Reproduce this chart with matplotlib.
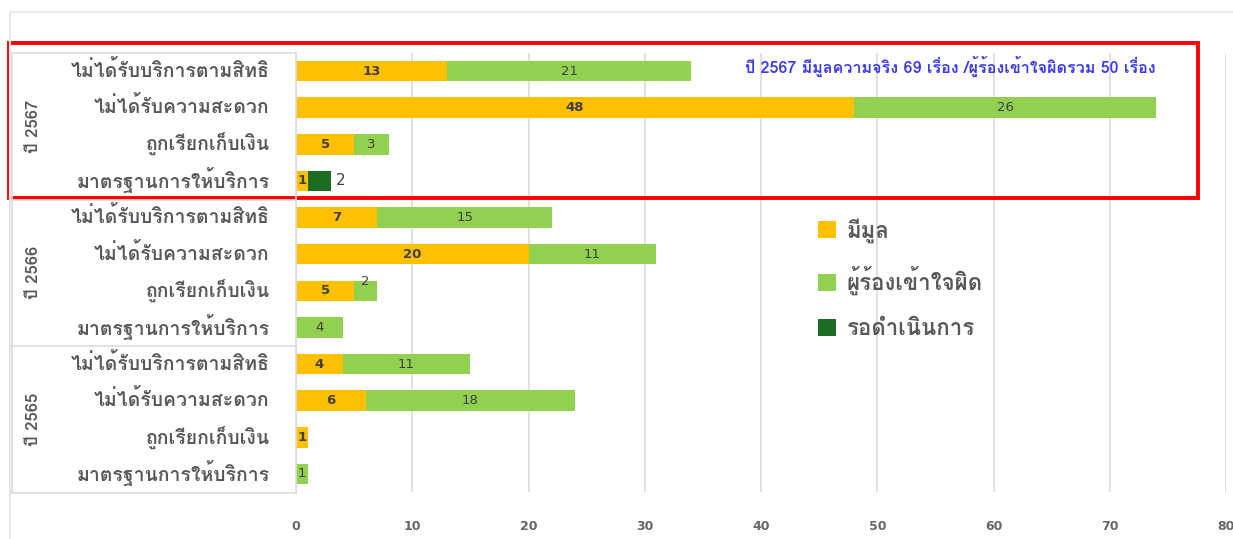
import numpy as np
import matplotlib
matplotlib.use('Agg')
import matplotlib.pyplot as plt
import matplotlib.transforms as mtransforms
from matplotlib.patches import Patch, Rectangle
from matplotlib.lines import Line2D

plt.rcParams['font.family'] = ['Loma', 'Noto Sans Thai Looped', 'DejaVu Sans']

# data (top to bottom)
years = ['ปี 2567', 'ปี 2566', 'ปี 2565']
topics = ['ไม่ได้รับบริการตามสิทธิ', 'ไม่ได้รับความสะดวก', 'ถูกเรียกเก็บเงิน', 'มาตรฐานการให้บริการ']
valid = [13, 48, 5, 1,  7, 20, 5, 0,  4, 6, 1, 0]
misunderstood = [21, 26, 3, 0,  15, 11, 2, 4,  11, 18, 0, 1]
pending = [0, 0, 0, 2,  0, 0, 0, 0,  0, 0, 0, 0]
series_names = ['มีมูล', 'ผู้ร้องเข้าใจผิด', 'รอดำเนินการ']
note = 'ปี 2567 มีมูลความจริง 69 เรื่อง /ผู้ร้องเข้าใจผิดรวม 50 เรื่อง'

c_yel = '#ffc000'
c_lg = '#92d050'
c_dg = '#1e6b24'
grey = '#595959'

W, H = 1233, 539
fig = plt.figure(figsize=(W/100, H/100), dpi=100)
ax = fig.add_axes([296/W, 1-492.3/H, 930/W, (492.3-52.7)/H])

labels = topics * len(years)
y = np.arange(len(labels))
valid = np.array(valid)
misunderstood = np.array(misunderstood)
pending = np.array(pending)
bh = 0.56

ax.barh(y, valid, height=bh, color=c_yel, zorder=3)
ax.barh(y, misunderstood, left=valid, height=bh, color=c_lg, zorder=3)
ax.barh(y, pending, left=valid+misunderstood, height=bh, color=c_dg, zorder=3)

for i in range(len(y)):
    if valid[i] > 0:
        ax.text(valid[i]/2, y[i], str(valid[i]), ha='center', va='center',
                fontsize=9.5, fontweight='bold', color='#404040', family='DejaVu Sans', zorder=4)
    if misunderstood[i] > 0:
        dy = -0.25 if misunderstood[i] == 2 else 0
        ax.text(valid[i] + misunderstood[i]/2, y[i] + dy, str(misunderstood[i]), ha='center', va='center',
                fontsize=9.5, color='#404040', family='DejaVu Sans', zorder=4)
    if pending[i] > 0:
        ax.text(valid[i] + misunderstood[i] + pending[i] + 0.4, y[i], str(pending[i]), ha='left', va='center',
                fontsize=11, color='#404040', family='DejaVu Sans', zorder=4)

ax.set_xlim(0, 80)
ax.set_ylim(len(y)-0.5, -0.5)
ax.set_xticks(np.arange(0, 81, 10))
ax.set_yticks(y)
ax.set_yticklabels(labels, fontsize=14, color=grey, fontweight='bold')
ax.tick_params(axis='y', length=0, pad=19)
ax.tick_params(axis='x', length=0, pad=20, labelsize=9, labelcolor='#666666')
up = mtransforms.ScaledTranslation(0, 3/100, fig.dpi_scale_trans)
for t in ax.get_yticklabels():
    t.set_transform(t.get_transform() + up)
for t in ax.get_xticklabels():
    t.set_fontweight('bold')
    t.set_family('DejaVu Sans')
ax.grid(axis='x', color='#dcdcdc', linewidth=1.2, zorder=0)
for s in ax.spines.values():
    s.set_visible(False)

# group labels
for k, yr in enumerate(years):
    ymid = (52.7 + 146.5*k + 73.25)
    fig.text(33/W, 1-ymid/H, yr, rotation=90, ha='center', va='center',
             fontsize=12, fontweight='bold', color=grey)

# table lines
lc = '#dddddd'
for yy in [53, 199.5, 346, 492.5]:
    fig.add_artist(Line2D([12/W, 296/W], [1-yy/H, 1-yy/H], color=lc, lw=1.2))
fig.add_artist(Line2D([12/W, 12/W], [1-53/H, 1-492.5/H], color=lc, lw=1.2))
fig.add_artist(Line2D([296/W, 296/W], [1-53/H, 1-492.5/H], color=lc, lw=1.2))
# outer frame
fig.add_artist(Line2D([10/W, 1], [1-12/H, 1-12/H], color='#e8e8e8', lw=1.5))
fig.add_artist(Line2D([10/W, 10/W], [1-12/H, 0], color='#e8e8e8', lw=1.5))

# red highlight box
fig.add_artist(Rectangle((9/W, 1-198/H), (1198-9)/W, (198-43)/H, fill=False,
                         edgecolor='#ff0000', lw=2.8, transform=fig.transFigure))

fig.text(950/W, 1-66/H, note, ha='center', va='center', fontsize=11.6,
         fontweight='bold', color='#3b3bf5')

handles = [Patch(facecolor=c, edgecolor='none') for c in [c_yel, c_lg, c_dg]]
fig.legend(handles, series_names, loc='upper left', bbox_to_anchor=(798/W, 1-198/H),
           frameon=False, labelcolor=grey, handlelength=0.8, handleheight=0.8,
           handletextpad=0.5, labelspacing=1.05, prop={'weight': 'bold', 'size': 16})

fig.savefig('out.png', dpi=100)
